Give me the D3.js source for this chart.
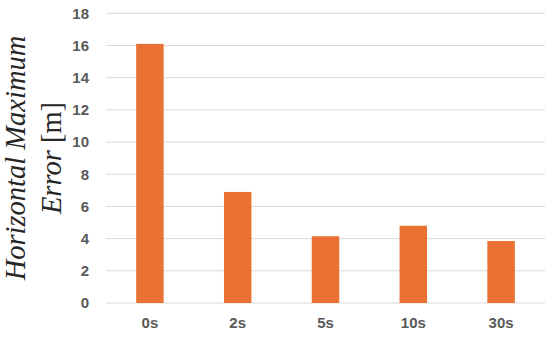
<!DOCTYPE html>
<html>
<head>
<meta charset="utf-8">
<script src="https://cdn.jsdelivr.net/npm/d3@7"></script>
<style>
  body { margin: 0; background: #fff; }
  .tick text { font-family: "Liberation Sans", Arial, sans-serif; font-weight: bold; fill: #595959; }
</style>
</head>
<body>
<div id="vis"></div>
<script>
const FRAME_WIDTH = 550;
const FRAME_HEIGHT = 337;
const MARGINS = {left: 106, right: 5, top: 13.3, bottom: 34};

const categories = ["0s", "2s", "5s", "10s", "30s"];
const values = [16.1, 6.9, 4.15, 4.8, 3.85];
const yTicks = [0, 2, 4, 6, 8, 10, 12, 14, 16, 18];
// each title line: list of [text, font-style] pieces
const titleLines = [
  [["Horizontal Maximum", "italic"]],
  [["Error ", "italic"], ["[m]", "normal"]]
];

const VIS_WIDTH = FRAME_WIDTH - MARGINS.left - MARGINS.right;
const VIS_HEIGHT = FRAME_HEIGHT - MARGINS.top - MARGINS.bottom;

const svg = d3.select("#vis")
  .append("svg")
    .attr("width", FRAME_WIDTH)
    .attr("height", FRAME_HEIGHT);

const X_SCALE = d3.scaleBand()
  .domain(categories)
  .range([0, VIS_WIDTH])
  .paddingInner(0.687)
  .paddingOuter(0.687 / 2);

const Y_SCALE = d3.scaleLinear()
  .domain([0, 18])
  .range([VIS_HEIGHT, 0]);

const g = svg.append("g")
  .attr("transform", "translate(" + MARGINS.left + "," + MARGINS.top + ")");

// gridlines
g.selectAll(".grid")
  .data(yTicks)
  .enter()
  .append("line")
    .attr("x1", 0)
    .attr("x2", VIS_WIDTH)
    .attr("y1", d => Y_SCALE(d))
    .attr("y2", d => Y_SCALE(d))
    .attr("stroke", "#d9d9d9")
    .attr("stroke-width", 1);

// bars
g.selectAll(".bar")
  .data(values)
  .enter()
  .append("rect")
    .attr("x", (d, i) => X_SCALE(categories[i]))
    .attr("y", d => Y_SCALE(d))
    .attr("width", X_SCALE.bandwidth())
    .attr("height", d => VIS_HEIGHT - Y_SCALE(d))
    .attr("fill", "#E97132");

// y axis
const yAxis = g.append("g")
  .call(d3.axisLeft(Y_SCALE).tickValues(yTicks).tickSize(0).tickPadding(17));
yAxis.select(".domain").remove();
yAxis.selectAll("text").attr("font-size", "15px");

// x axis
const xAxis = g.append("g")
  .attr("transform", "translate(0," + VIS_HEIGHT + ")")
  .call(d3.axisBottom(X_SCALE).tickSize(0).tickPadding(14));
xAxis.select(".domain").remove();
xAxis.selectAll("text").attr("font-size", "15px");

// y title, two lines
const titleG = svg.append("g")
  .attr("transform", "translate(0,158) rotate(-90)");

titleG.selectAll("text")
  .data(titleLines)
  .enter()
  .append("text")
    .attr("x", 0)
    .attr("y", (d, i) => 25 + i * 36)
    .attr("text-anchor", "middle")
    .attr("font-family", "'Liberation Serif', 'DejaVu Serif', serif")
    .attr("font-size", "28.5px")
    .attr("fill", "#262626")
  .selectAll("tspan")
    .data(d => d)
    .enter()
    .append("tspan")
      .attr("font-style", d => d[1])
      .text(d => d[0]);
</script>
</body>
</html>
